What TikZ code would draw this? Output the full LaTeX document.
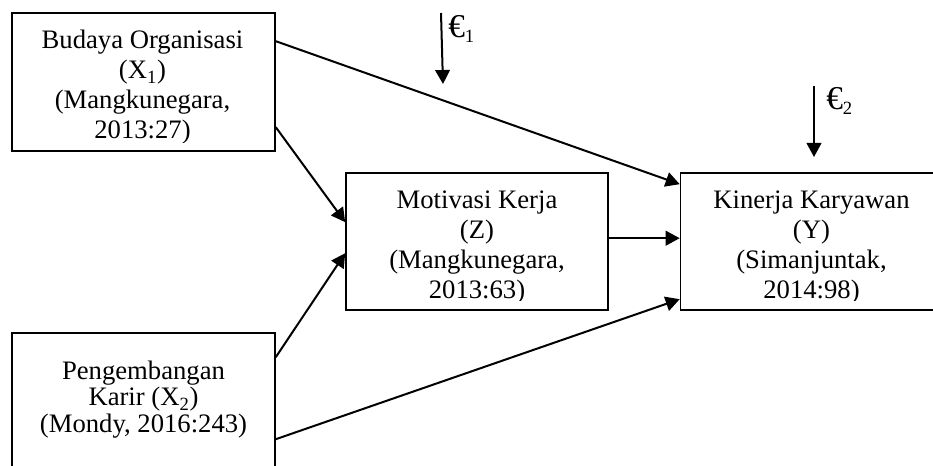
\documentclass[tikz,border=0pt]{standalone}
\usepackage{fontspec}
\setmainfont{Liberation Serif}
\usetikzlibrary{arrows.meta,calc}
\begin{document}
\begin{tikzpicture}[x=0.75pt,y=-0.75pt,
  box/.style={draw,line width=1.2pt,rectangle,inner sep=0pt},
  txt/.style={inner sep=0pt,align=center,font=\fontsize{20}{22.5}\selectfont},
  txttwo/.style={inner sep=0pt,align=center,font=\fontsize{20}{19.9}\selectfont},
  arr/.style={line width=1.5pt,-{Triangle[length=10.5pt,width=11pt]}},
  eps/.style={inner sep=0pt,anchor=base west,font=\fontsize{20}{22.5}\selectfont}]
\clip (0,0) rectangle (933,466);
\fill[white] (0,0) rectangle (933,466);
% boxes
\node[box,minimum width=197.25pt,minimum height=103.5pt] (X1) at (143.5,82) {};
\node[box,minimum width=197.25pt,minimum height=103.5pt] (X2) at (143.5,402) {};
\node[box,minimum width=196.5pt,minimum height=102.75pt] (Z) at (477,241.5) {};
\node[box,minimum width=196.5pt,minimum height=102.75pt] (Y) at (811.5,241.5) {};
% texts, clipped a little above the lower edge of each box
\begin{scope}
  \clip (X1.north west) rectangle ($(X1.south east)+(0,-9)$);
  \node[txt,anchor=north] (X1t) at ($(X1.north)+(-1,15.5)$)
    {\strut Budaya Organisasi\\\strut (X\textsubscript{1})\\\strut (Mangkunegara,\\\strut 2013:27)};
\end{scope}
\begin{scope}
  \clip (Z.north west) rectangle ($(Z.south east)+(0,-10)$);
  \node[txt,anchor=north] (Zt) at ($(Z.north)+(0,15.5)$)
    {\strut Motivasi Kerja\\\strut (Z)\\\strut (Mangkunegara,\\\strut 2013:63)};
\end{scope}
\begin{scope}
  \clip (Y.north west) rectangle ($(Y.south east)+(0,-10)$);
  \node[txt,anchor=north] (Yt) at ($(Y.north)+(0,15.5)$)
    {\strut Kinerja Karyawan\\\strut (Y)\\\strut (Simanjuntak,\\\strut 2014:98)};
\end{scope}
\node[txttwo,anchor=north] (X2t) at ($(X2.north)+(0,28.4)$)
  {\strut Pengembangan\\\strut Karir (X\textsubscript{2})\\\strut (Mondy, 2016:243)};
% connectors
\draw[arr] ($(X1.north east)+(0,29)$) -- ($(Y.north west)+(0,12)$);
\draw[arr] ($(X1.north east)+(0,115)$) -- ($(Z.north west)+(0,50)$);
\draw[arr] ($(X2.north east)+(0,25)$) -- ($(Z.north west)+(0,81)$);
\draw[arr] ($(Z.north east)+(0,66)$) -- ($(Y.north west)+(0,66)$);
\draw[arr] ($(X2.north east)+(0,107)$) -- ($(Y.north west)+(0,127)$);
% error terms
\coordinate (e1s) at (441,13);
\coordinate (e1t) at (443,84);
\draw[arr] (e1s) -- (e1t);
\node[eps] (e1) at (448,38) {{\fontsize{25}{25}\selectfont €}\textsubscript{1}};
\coordinate (e2s) at (814,86);
\coordinate (e2t) at (814,157);
\draw[arr] (e2s) -- (e2t);
\node[eps] (e2) at (826,110) {{\fontsize{25}{25}\selectfont €}\textsubscript{2}};
\end{tikzpicture}
\end{document}
